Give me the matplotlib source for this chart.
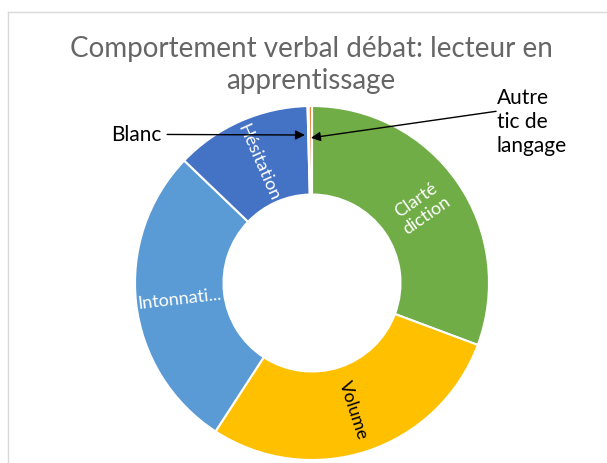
import numpy as np
import matplotlib.pyplot as plt

categories = ["Clarté diction", "Volume", "Intonnation", "Hésitation", "Blanc", "Autre tic de langage"]
values = [30.6, 28.4, 27.9, 12.4, 0.1, 0.3]
inner_labels = ["Clarté\ndiction", "Volume", "Intonnati...", "Hésitation", "", ""]
colors = ["#70AD47", "#FFC000", "#5B9BD5", "#4472C4", "#A5A5A5", "#ED7D31"]
label_colors = ["white", "black", "white", "white", "white", "white"]

plt.rcParams['font.family'] = ['Lato', 'DejaVu Sans']

fig = plt.figure(figsize=(6.07, 4.64), dpi=100)
W, H = 607, 464

# chart frame (only top/left edges are visible)
fig.add_artist(plt.Line2D([8 / W, 8 / W], [0, 1 - 13 / H], color="#d9d9d9", lw=1))
fig.add_artist(plt.Line2D([8 / W, 1], [1 - 13 / H, 1 - 13 / H], color="#d9d9d9", lw=1))

cx, cy, r = 312, 284, 177
ax = fig.add_axes([(cx - r) / W, (H - cy - r) / H, 2 * r / W, 2 * r / H])
wedges, _ = ax.pie(values, colors=colors, startangle=90, counterclock=False,
                   radius=1, wedgeprops=dict(width=0.5, edgecolor="white", linewidth=1.5))
ax.set_xlim(-1, 1)
ax.set_ylim(-1, 1)
ax.set_aspect("equal")
ax.axis("off")

for w, lab, col in zip(wedges, inner_labels, label_colors):
    if not lab:
        continue
    mid = (w.theta1 + w.theta2) / 2
    x = 0.75 * np.cos(np.radians(mid))
    y = 0.75 * np.sin(np.radians(mid))
    rot = mid
    if np.cos(np.radians(mid)) < 0:
        rot = mid - 180
    ax.text(x, y, lab, color=col, fontsize=13, ha="center", va="center",
            rotation=rot, rotation_mode="anchor", linespacing=1.2)

fig.text(311 / W, 1 - 65 / H, "Comportement verbal débat: lecteur en\napprentissage",
         ha="center", va="center", fontsize=20, color="#666666", linespacing=1.3)

ax.annotate("Blanc", xy=(-0.04, 0.836), xytext=(-0.85, 0.84),
            ha="right", va="center", fontsize=15, color="black",
            arrowprops=dict(arrowstyle="-|>", color="black", lw=1, mutation_scale=14,
                            shrinkA=2, shrinkB=0))
ax.annotate("", xy=(-0.006, 0.82), xytext=(1.04, 0.97),
            arrowprops=dict(arrowstyle="-|>", color="black", lw=1, mutation_scale=14,
                            shrinkA=0, shrinkB=0))
fig.text(497 / W, 1 - 122 / H, "Autre\ntic de\nlangage", ha="left", va="center",
         fontsize=15, color="black", linespacing=1.25)

fig.savefig("out.png", dpi=100)
